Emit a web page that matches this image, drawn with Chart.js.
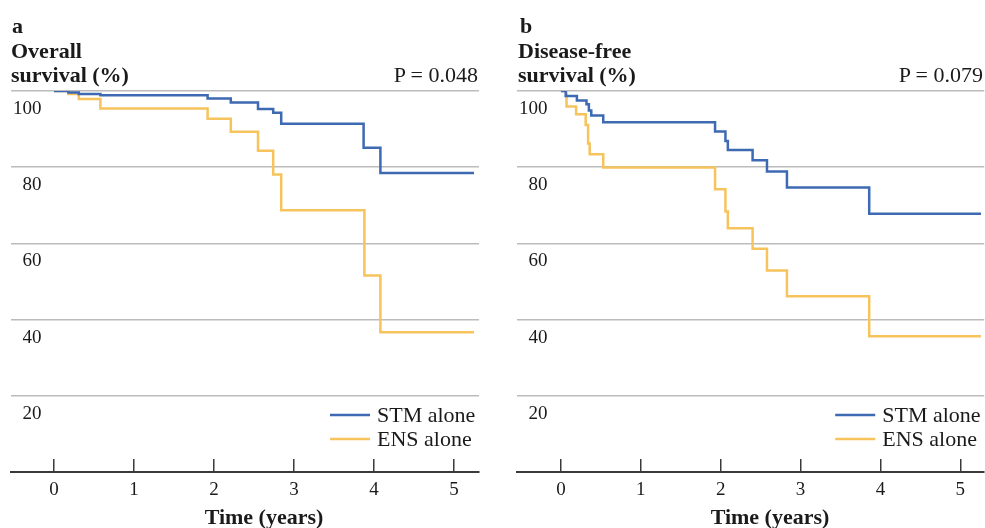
<!DOCTYPE html>
<html>
<head>
<meta charset="utf-8">
<script src="https://cdn.jsdelivr.net/npm/chart.js@4"></script>
<style>
  html, body { margin: 0; padding: 0; background: #fff; }
  body { width: 985px; height: 528px; position: relative; overflow: hidden;
         font-family: "Liberation Serif", "Times New Roman", serif; color: #1a1a1a; }
  .box { position: absolute; top: 0; width: 490px; height: 528px; }
  .t { position: absolute; font-size: 22px; line-height: 22px; white-space: nowrap; }
  .b { font-weight: bold; }
</style>
</head>
<body>
<div class="box" style="left:0"><canvas id="c1"></canvas></div>
<div class="box" style="left:495px"><canvas id="c2"></canvas></div>

<div class="t b" style="left:12px; top:15px;">a</div>
<div class="t b" style="left:11px; top:40px;">Overall</div>
<div class="t b" style="left:11px; top:64px;">survival (%)</div>
<div class="t" style="right:507px; top:64px;">P = 0.048</div>
<div class="t b" style="left:264px; top:506px; transform:translateX(-50%);">Time (years)</div>

<div class="t b" style="left:520px; top:15px;">b</div>
<div class="t b" style="left:518px; top:40px;">Disease-free</div>
<div class="t b" style="left:518px; top:64px;">survival (%)</div>
<div class="t" style="right:2px; top:64px;">P = 0.079</div>
<div class="t b" style="left:770px; top:506px; transform:translateX(-50%);">Time (years)</div>

<script>
// ---- Data ----
const seriesLabels = ["STM alone", "ENS alone"];
const xTickValues = [0, 1, 2, 3, 4, 5];
const yTickValues = [20, 40, 60, 80, 100];

// Panel a: overall survival
const osStmTime = [0, 0.18, 0.31, 0.58, 1.92, 2.21, 2.55, 2.74, 2.84, 3.87, 4.08, 5.25];
const osStmSurv = [100, 99.6, 99.2, 98.9, 98.0, 97.0, 95.3, 94.3, 91.4, 85.1, 78.5, 78.5];
const osEnsTime = [0, 0.18, 0.31, 0.58, 1.92, 2.21, 2.55, 2.74, 2.84, 3.88, 4.08, 5.25];
const osEnsSurv = [100, 99.2, 97.9, 95.4, 92.7, 89.3, 84.3, 78.1, 68.7, 51.6, 36.7, 36.7];

// Panel b: disease-free survival
const dfsStmTime = [0, 0.06, 0.20, 0.32, 0.35, 0.38, 0.53, 1.93, 2.06, 2.09, 2.40, 2.58, 2.83, 3.86, 5.26];
const dfsStmSurv = [100, 98.7, 97.5, 96.5, 94.9, 93.6, 91.8, 89.4, 86.9, 84.5, 81.8, 78.9, 74.7, 67.8, 67.8];
const dfsEnsTime = [0, 0.07, 0.19, 0.31, 0.34, 0.36, 0.53, 1.93, 2.06, 2.09, 2.40, 2.58, 2.83, 3.86, 5.26];
const dfsEnsSurv = [100, 95.9, 93.9, 91.1, 86.2, 83.4, 79.9, 74.2, 68.4, 64.0, 58.6, 52.9, 46.1, 35.6, 35.6];

const colors = ["#3d6ab2", "#f6c35c"];
const FONT = "'Liberation Serif', 'Times New Roman', serif";

function pts(t, s) { return t.map((x, i) => ({ x: x, y: s[i] })); }

const legendPlugin = {
  id: 'insideLegend',
  afterDraw(chart) {
    const ctx = chart.ctx, a = chart.chartArea;
    ctx.save();
    ctx.font = "22px " + FONT;
    ctx.textBaseline = 'middle';
    ctx.textAlign = 'left';
    chart.data.datasets.forEach((ds, i) => {
      const y = a.bottom - 57 + i * 24;
      ctx.strokeStyle = ds.borderColor;
      ctx.lineWidth = 2.5;
      ctx.beginPath();
      ctx.moveTo(a.right - 149, y);
      ctx.lineTo(a.right - 109, y);
      ctx.stroke();
      ctx.fillStyle = '#1a1a1a';
      ctx.fillText(ds.label, a.right - 102, y + 1);
    });
    ctx.restore();
  }
};

function makeChart(id, stmT, stmS, ensT, ensS, xmin, xmax, padL, padR) {
  return new Chart(document.getElementById(id), {
    type: 'line',
    data: {
      datasets: [
        { label: seriesLabels[0], data: pts(stmT, stmS), borderColor: colors[0], order: 0,
          borderWidth: 2.5, stepped: true, pointRadius: 0, fill: false },
        { label: seriesLabels[1], data: pts(ensT, ensS), borderColor: colors[1], order: 1,
          borderWidth: 2.5, stepped: true, pointRadius: 0, fill: false }
      ]
    },
    options: {
      responsive: false,
      animation: false,
      maintainAspectRatio: false,
      layout: { padding: { top: 91, left: padL, right: padR, bottom: 0 } },
      plugins: { legend: { display: false }, tooltip: { enabled: false } },
      scales: {
        x: {
          type: 'linear', min: xmin, max: xmax,
          afterFit(s) { s.height = 56; },
          afterBuildTicks(s) { s.ticks = xTickValues.map(v => ({ value: v })); },
          border: { display: true, color: '#3a3a3a', width: 2 },
          grid: { drawOnChartArea: false, drawTicks: true, tickLength: -13, color: '#3a3a3a', lineWidth: 1.5 },
          ticks: { includeBounds: false, stepSize: 1, padding: 20, color: '#1a1a1a',
                   font: { family: FONT, size: 19 } }
        },
        y: {
          min: 0, max: 100,
          afterBuildTicks(s) { s.ticks = [0].concat(yTickValues).map(v => ({ value: v })); },
          border: { display: false },
          grid: { drawTicks: false, color: c => c.tick && c.tick.value === 0 ? 'rgba(0,0,0,0)' : '#bcbcbc', lineWidth: 1.5 },
          ticks: { mirror: true, crossAlign: 'far', padding: 2, labelOffset: 18, color: '#1a1a1a',
                   font: { family: FONT, size: 19 },
                   callback: v => v === 0 ? '' : String(v) }
        }
      }
    },
    plugins: [legendPlugin]
  });
}

function setup(id) {
  const c = document.getElementById(id);
  c.width = 490; c.height = 528;
  c.style.width = '490px'; c.style.height = '528px';
}
setup('c1'); setup('c2');
makeChart('c1', osStmTime, osStmSurv, osEnsTime, osEnsSurv, -0.5375, 5.3125, 7, 11);
makeChart('c2', dfsStmTime, dfsStmSurv, dfsEnsTime, dfsEnsSurv, -0.55, 5.3, 18, 0);
</script>
</body>
</html>
